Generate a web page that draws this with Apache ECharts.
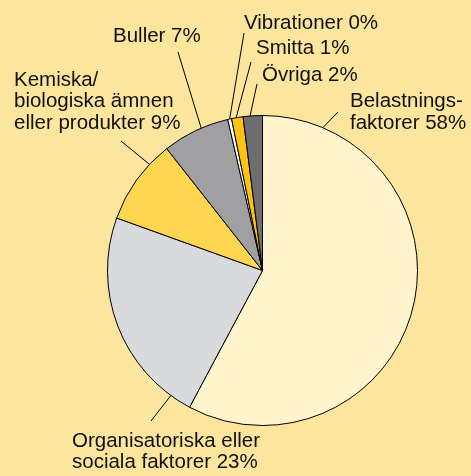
<!DOCTYPE html>
<html><head><meta charset="utf-8">
<script src="https://cdn.jsdelivr.net/npm/echarts@6/dist/echarts.min.js"></script>
<style>html,body{margin:0;padding:0;background:#FCE59C;}#c{width:471px;height:476px;}</style>
</head><body><div id="c"></div>
<script>
const categories = ['Belastnings-\nfaktorer', 'Organisatoriska eller\nsociala faktorer', 'Kemiska/\nbiologiska ämnen\neller produkter', 'Buller', 'Vibrationer', 'Smitta', 'Övriga'];
const values = [57.8, 22.7, 8.9, 7.0, 0.4, 1.2, 2.0];
const shownPercent = [58, 23, 9, 7, 0, 1, 2];
const colors = ['#FFF4CC', '#D9DADB', '#FFD650', '#A0A0A2', '#FFFFFF', '#FFC20E', '#6D6E70'];
// label anchors: [x, y(center), align]
const labelPos = [[350, 112.5, 'left'], [72, 452, 'left'], [14, 101.5, 'left'], [113, 36, 'left'], [244, 23, 'left'], [256, 48, 'left'], [262, 75, 'left']];
// leader line: [fraction along slice where it leaves the rim, end x, end y]
const leaders = [[0.11, 338, 112], [0.10, 151, 421], [0.73, 121, 141], [0.59, 178, 52], [0.5, 244, 33], [0.4, 251, 62], [0.36, 257, 84]];

const CX = 262.5, CY = 270.5, R = 155;
const total = values.reduce((a, b) => a + b, 0);
const cum = [];
values.reduce((acc, v, i) => { cum[i] = acc; return acc + v; }, 0);

const chart = echarts.init(document.getElementById('c'), null, {renderer: 'canvas'});
chart.setOption({
  backgroundColor: '#FCE59C',
  animation: false,
  series: [{
    type: 'pie',
    center: [CX, CY],
    radius: [0, R],
    startAngle: 90,
    clockwise: true,
    avoidLabelOverlap: false,
    minAngle: 0,
    itemStyle: {borderColor: '#000', borderWidth: 1},
    label: {
      show: true,
      color: '#111',
      fontFamily: 'Liberation Sans, Arial, sans-serif',
      fontSize: 20.5,
      lineHeight: 21.5,
      formatter: p => categories[p.dataIndex] + ' ' + shownPercent[p.dataIndex] + '%'
    },
    labelLine: {show: true, length: 20, length2: 0, smooth: false, lineStyle: {color: '#000', width: 1}},
    labelLayout: function (params) {
      const i = params.dataIndex;
      const lp = labelPos[i];
      const ld = leaders[i];
      const a = (cum[i] + values[i] * ld[0]) / total * Math.PI * 2;
      const sx = CX + R * Math.sin(a), sy = CY - R * Math.cos(a);
      return {x: lp[0], y: lp[1], align: lp[2], verticalAlign: 'middle',
              labelLinePoints: [[sx, sy], [ld[1], ld[2]], [ld[1], ld[2]]]};
    },
    data: values.map((v, i) => ({name: categories[i], value: v, itemStyle: {color: colors[i]}}))
  }]
});
</script></body></html>
